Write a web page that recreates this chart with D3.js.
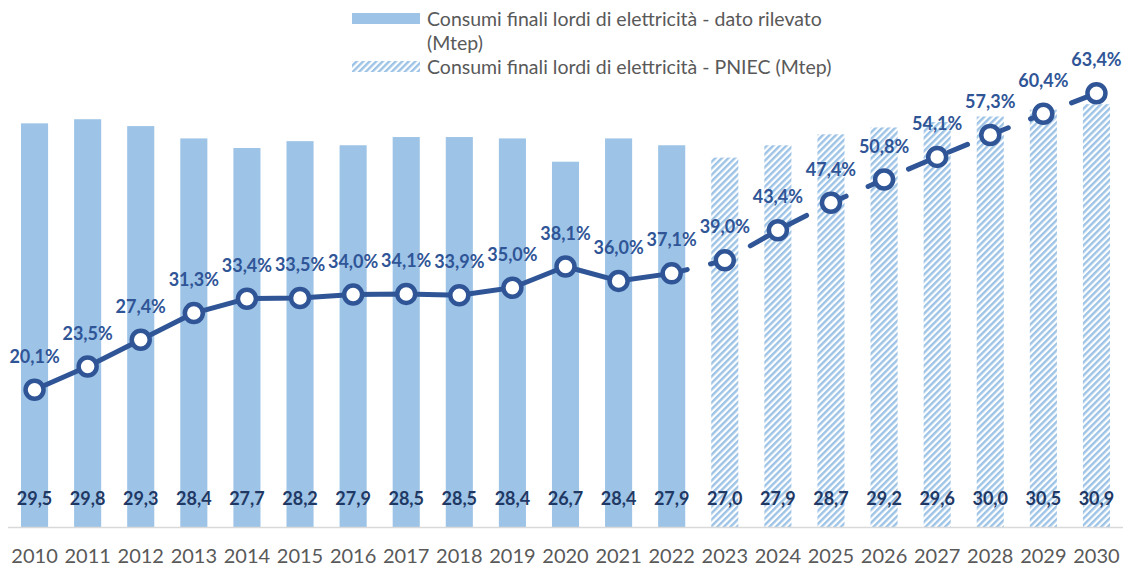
<!DOCTYPE html>
<html>
<head>
<meta charset="utf-8">
<script src="https://cdn.jsdelivr.net/npm/d3@7"></script>
<style>
  body { margin: 0; background: #fff; }
  svg { display: block; font-family: Lato, "Open Sans", sans-serif; }
</style>
</head>
<body>
<div id="chart"></div>
<script>
var years = [2010, 2011, 2012, 2013, 2014, 2015, 2016, 2017, 2018, 2019, 2020,
  2021, 2022, 2023, 2024, 2025, 2026, 2027, 2028, 2029, 2030];

// Mtep
var consumi = [29.5, 29.8, 29.3, 28.4, 27.7, 28.2, 27.9, 28.5, 28.5, 28.4, 26.7,
  28.4, 27.9, 27.0, 27.9, 28.7, 29.2, 29.6, 30.0, 30.5, 30.9];

// quota FER-E, %
var quota = [20.1, 23.5, 27.4, 31.3, 33.4, 33.5, 34.0, 34.1, 33.9, 35.0, 38.1,
  36.0, 37.1, 39.0, 43.4, 47.4, 50.8, 54.1, 57.3, 60.4, 63.4];

var lastObserved = 2022;

var legendLabels = [
  ["Consumi finali lordi di elettricità - dato rilevato", "(Mtep)"],
  ["Consumi finali lordi di elettricità - PNIEC (Mtep)"]
];

var W = 1136, H = 569;
var x0 = 8, x1 = 1123, yBase = 527.5, yTop = 48;

var it = d3.formatLocale({ decimal: ",", thousands: ".", grouping: [3], currency: ["", "€"] });
var fmt = it.format(".1f");

var data = years.map(function (y, i) {
  return { year: y, val: consumi[i], pct: quota[i], proj: y > lastObserved };
});

var svg = d3.select("#chart").append("svg")
  .attr("width", W)
  .attr("height", H);

var defs = svg.append("defs");
var pat = defs.append("pattern")
  .attr("id", "hatch")
  .attr("patternUnits", "userSpaceOnUse")
  .attr("width", 4.6)
  .attr("height", 4.6)
  .attr("patternTransform", "rotate(45)");
pat.append("rect").attr("width", 4.6).attr("height", 4.6).attr("fill", "#fff");
pat.append("rect").attr("width", 2.4).attr("height", 4.6).attr("fill", "#9DC3E6");

var x = d3.scaleBand()
  .domain(years)
  .range([x0, x1])
  .paddingInner(0.49)
  .paddingOuter(0.245);

var yBar = d3.scaleLinear().domain([0, 35]).range([yBase, yTop]);
var yLine = d3.scaleLinear().domain([0, 70]).range([yBase, yTop]);

function cx(d) { return x(d.year) + x.bandwidth() / 2; }

// bars
svg.selectAll(".bar")
  .data(data)
  .enter()
  .append("rect")
  .attr("class", "bar")
  .attr("x", function (d) { return x(d.year); })
  .attr("y", function (d) { return yBar(d.val); })
  .attr("width", x.bandwidth())
  .attr("height", function (d) { return yBase - yBar(d.val); })
  .attr("fill", function (d) { return d.proj ? "url(#hatch)" : "#9DC3E6"; });

// x axis
var xAxis = svg.append("g")
  .attr("transform", "translate(0," + yBase + ")")
  .call(d3.axisBottom(x).tickSize(0).tickPadding(21));
xAxis.select(".domain").attr("stroke", "#D9D9D9").attr("stroke-width", 1.5)
  .attr("d", "M" + x0 + ",0H" + x1);
xAxis.selectAll("text")
  .attr("fill", "#595959")
  .style("font-size", "20px")
  .style("font-family", "Lato, sans-serif");

// bar labels
svg.selectAll(".barlab")
  .data(data)
  .enter()
  .append("text")
  .attr("class", "barlab")
  .attr("x", cx)
  .attr("y", 505)
  .attr("text-anchor", "middle")
  .attr("fill", "#1F3864")
  .style("font-size", "18px")
  .style("font-weight", "bold")
  .text(function (d) { return fmt(d.val); });

// line
var line = d3.line()
  .x(cx)
  .y(function (d) { return yLine(d.pct); });

var obs = data.filter(function (d) { return d.year <= lastObserved; });
var proj = data.filter(function (d) { return d.year >= lastObserved; });

svg.append("path")
  .datum(obs)
  .attr("d", line)
  .attr("fill", "none")
  .attr("stroke", "#2F5597")
  .attr("stroke-width", 5)
  .attr("stroke-linejoin", "round");

svg.append("path")
  .datum(proj)
  .attr("d", line)
  .attr("fill", "none")
  .attr("stroke", "#2F5597")
  .attr("stroke-width", 5)
  .attr("stroke-linecap", "round")
  .attr("stroke-dasharray", "20,24")
  .attr("stroke-dashoffset", 4);

svg.selectAll(".dot")
  .data(data)
  .enter()
  .append("circle")
  .attr("class", "dot")
  .attr("cx", cx)
  .attr("cy", function (d) { return yLine(d.pct); })
  .attr("r", 9)
  .attr("fill", "#fff")
  .attr("stroke", "#2F5597")
  .attr("stroke-width", 4.5);

svg.selectAll(".pctlab")
  .data(data)
  .enter()
  .append("text")
  .attr("class", "pctlab")
  .attr("x", cx)
  .attr("y", function (d) { return yLine(d.pct) - 27; })
  .attr("text-anchor", "middle")
  .attr("fill", "#2F5597")
  .style("font-size", "18px")
  .style("font-weight", "bold")
  .text(function (d) { return fmt(d.pct) + "%"; });

// legend
var leg = svg.append("g");
leg.append("rect")
  .attr("x", 352).attr("y", 13).attr("width", 68).attr("height", 11)
  .attr("fill", "#9DC3E6");
leg.append("rect")
  .attr("x", 352).attr("y", 61).attr("width", 68).attr("height", 11)
  .attr("fill", "url(#hatch)");

var lt = leg.append("text")
  .attr("fill", "#595959")
  .style("font-size", "19.5px");
lt.selectAll("tspan")
  .data(legendLabels[0])
  .enter()
  .append("tspan")
  .attr("x", 427)
  .attr("y", function (d, i) { return 26 + i * 24; })
  .text(function (d) { return d; });
leg.append("text")
  .attr("x", 427)
  .attr("y", 74)
  .attr("fill", "#595959")
  .style("font-size", "19.5px")
  .text(legendLabels[1][0]);
</script>
</body>
</html>
